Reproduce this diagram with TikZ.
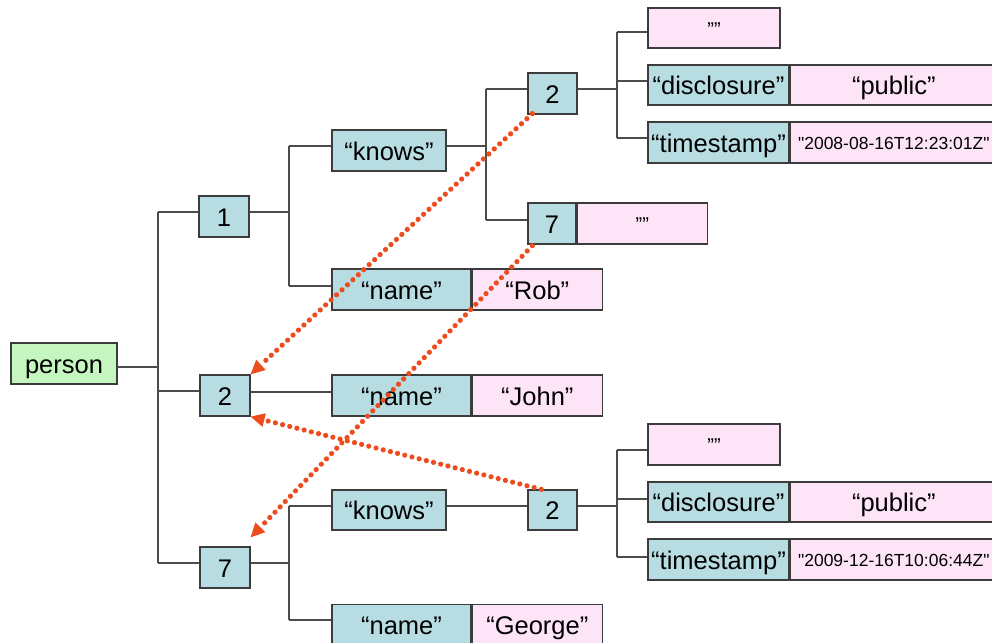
\documentclass[tikz,border=0pt]{standalone}
\usepackage{fontspec}
\setmainfont{Liberation Sans}
\newfontfamily\rawfont{Liberation Sans}
\usetikzlibrary{arrows.meta}
\definecolor{tealc}{RGB}{183,221,226}
\definecolor{pinkc}{RGB}{253,228,247}
\definecolor{greenc}{RGB}{198,246,192}
\definecolor{boxline}{RGB}{60,60,60}
\definecolor{connc}{RGB}{75,75,75}
\definecolor{refc}{RGB}{236,76,30}
\begin{document}
\begin{tikzpicture}[x=1pt,y=-1pt,
  bx/.style={draw=boxline,line width=1.3pt,inner sep=0pt,minimum height=41pt,
    font=\fontsize{25.5}{28}\selectfont,text height=21pt,text depth=2pt},
  tl/.style={bx,fill=tealc},
  pk/.style={bx,fill=pinkc},
  gr/.style={bx,fill=greenc},
  small/.style={font=\rawfont\fontsize{17.5}{20}\selectfont,text height=14pt,text depth=0pt},
  emptyq/.style={font=\fontsize{20}{22}\selectfont,text height=16.8pt,text depth=0pt},
  conn/.style={draw=connc,line width=1.2pt},
  refarrow/.style={draw=refc,line width=5.2pt,line cap=round,dash pattern=on 0.01pt off 7.4pt,
    -{Triangle[length=14pt,width=14pt,fill=refc,line width=0pt]}}]
\useasboundingbox (0,0) rectangle (992,642);

% nodes
\node[gr,minimum width=106pt] (person) at (64,363.5) {person};
\node[tl,minimum width=50pt] (n1) at (224,216.5) {1};
\node[tl,minimum width=50pt] (l2) at (225,395.5) {2};
\node[tl,minimum width=50pt] (l7) at (225,567.5) {7};

\node[tl,minimum width=114pt] (knowsA) at (389,150.5) {“knows”};
\node[tl,minimum width=139pt] (nameR) at (401.5,289.5) {“name”};
\node[pk,minimum width=130pt,anchor=west] (rob) at (nameR.east) {“Rob”};

\node[tl,minimum width=49pt] (t2) at (552.5,93.5) {2};
\node[tl,minimum width=48pt] (t7) at (552,223.5) {7};
\node[pk,minimum width=130pt,anchor=west,emptyq] (t7v) at (t7.east) {””};

\node[pk,minimum width=132pt,minimum height=40pt,emptyq] (e1) at (714,28) {””};
\node[tl,minimum width=141pt,minimum height=40pt] (d1) at (718.5,85) {“disclosure”};
\node[pk,minimum width=207pt,minimum height=40pt,anchor=west] (p1) at (d1.east) {“public”};
\node[tl,minimum width=141pt] (s1) at (718.5,142.5) {“timestamp”};
\node[pk,minimum width=207pt,anchor=west,small] (v1) at (s1.east) {"2008-08-16T12:23:01Z"};

\node[tl,minimum width=139pt] (nameJ) at (401.5,395.5) {“name”};
\node[pk,minimum width=130pt,anchor=west] (john) at (nameJ.east) {“John”};

\node[tl,minimum width=114pt,minimum height=40pt] (knowsB) at (389,510) {“knows”};
\node[tl,minimum width=49pt,minimum height=40pt] (b2) at (552.5,510) {2};

\node[pk,minimum width=132pt,emptyq] (e2) at (714,444.5) {””};
\node[tl,minimum width=141pt,minimum height=40pt] (d2) at (718.5,502) {“disclosure”};
\node[pk,minimum width=207pt,minimum height=40pt,anchor=west] (p2) at (d2.east) {“public”};
\node[tl,minimum width=141pt] (s2) at (718.5,559.5) {“timestamp”};
\node[pk,minimum width=207pt,anchor=west,small] (v2) at (s2.east) {"2009-12-16T10:06:44Z"};

\node[tl,minimum width=139pt] (nameG) at (401.5,625) {“name”};
\node[pk,minimum width=130pt,anchor=west] (george) at (nameG.east) {“George”};

% bus coordinates
\coordinate (A0) at (158,367);
\coordinate (A1) at (158,212);
\coordinate (A2) at (158,391);
\coordinate (A3) at (158,563);
\coordinate (B0) at (289,212);
\coordinate (B1) at (289,146);
\coordinate (B2) at (289,286);
\coordinate (C0) at (486,146);
\coordinate (C1) at (486,89);
\coordinate (C2) at (486,220);
\coordinate (D0) at (617,89);
\coordinate (D1) at (617,32);
\coordinate (D2) at (617,81);
\coordinate (D3) at (617,138);
\coordinate (J0) at (300,392);
\coordinate (E0) at (289,563);
\coordinate (E1) at (289,506);
\coordinate (E2) at (289,620);
\coordinate (K0) at (486,506);
\coordinate (F0) at (617,506);
\coordinate (F1) at (617,450);
\coordinate (F2) at (617,499);
\coordinate (F3) at (617,557);

% connectors
\draw[conn] (person.east |- A0) -- (A0);
\draw[conn] (A1) -- (A3);
\draw[conn] (A1) -- (n1.west |- A1);
\draw[conn] (A2) -- (l2.west |- A2);
\draw[conn] (A3) -- (l7.west |- A3);

\draw[conn] (n1.east |- B0) -- (B0);
\draw[conn] (B1) -- (B2);
\draw[conn] (B1) -- (knowsA.west |- B1);
\draw[conn] (B2) -- (nameR.west |- B2);

\draw[conn] (knowsA.east |- C0) -- (C0);
\draw[conn] (C1) -- (C2);
\draw[conn] (C1) -- (t2.west |- C1);
\draw[conn] (C2) -- (t7.west |- C2);

\draw[conn] (t2.east |- D0) -- (D0);
\draw[conn] (D1) -- (D3);
\draw[conn] (D1) -- (e1.west |- D1);
\draw[conn] (D2) -- (d1.west |- D2);
\draw[conn] (D3) -- (s1.west |- D3);

\draw[conn] (l2.east |- J0) -- (nameJ.west |- J0);

\draw[conn] (l7.east |- E0) -- (E0);
\draw[conn] (E1) -- (E2);
\draw[conn] (E1) -- (knowsB.west |- E1);
\draw[conn] (E2) -- (nameG.west |- E2);

\draw[conn] (knowsB.east |- K0) -- (b2.west |- K0);

\draw[conn] (b2.east |- F0) -- (F0);
\draw[conn] (F1) -- (F3);
\draw[conn] (F1) -- (e2.west |- F1);
\draw[conn] (F2) -- (d2.west |- F2);
\draw[conn] (F3) -- (s2.west |- F3);

% reference arrows
\draw[refarrow] ([xshift=5pt,yshift=1pt]t2.south west) -- (l2.north east);
\draw[refarrow] ([xshift=5pt,yshift=-1pt]t7.south west) -- ([yshift=9pt]l7.north east);
\draw[refarrow] ([xshift=14pt]b2.north west) -- (l2.south east);
\end{tikzpicture}
\end{document}
